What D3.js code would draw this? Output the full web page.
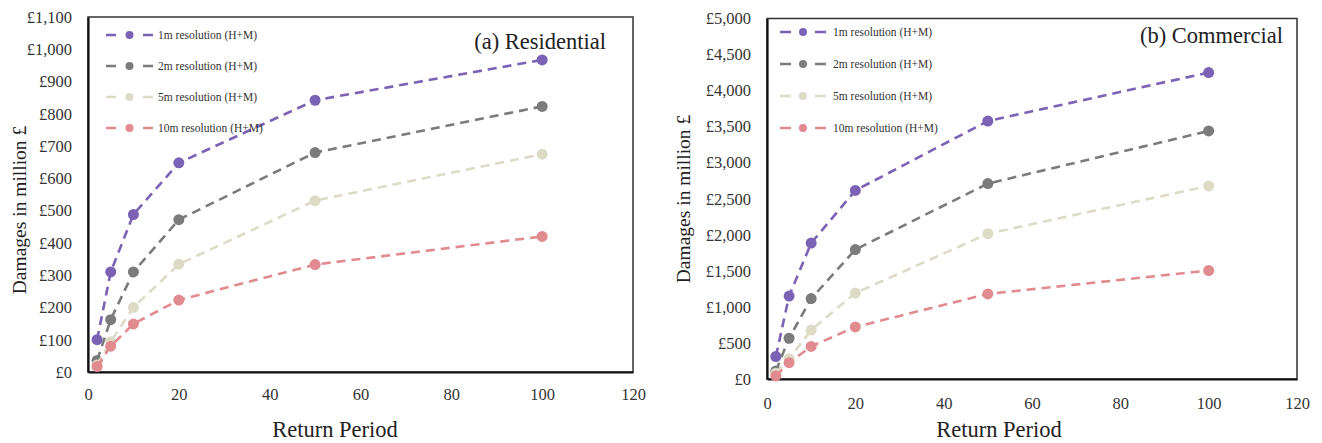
<!DOCTYPE html>
<html><head><meta charset="utf-8">
<script src="https://cdn.jsdelivr.net/npm/d3@7"></script>
<style>body{margin:0;background:#fff}svg{display:block}</style>
</head><body>
<svg id="c" width="1322" height="443"></svg>
<script>
const returnPeriods = [2, 5, 10, 20, 50, 100];
const seriesNames = ["1m resolution (H+M)", "2m resolution (H+M)", "5m resolution (H+M)", "10m resolution (H+M)"];
const seriesColors = ["#7c62b5", "#7b7b7b", "#dddac6", "#e18b90"];
const residential1m = [100, 310, 488, 648, 842, 967];
const residential2m = [36, 162, 310, 472, 680, 823];
const residential5m = [22, 94, 200, 334, 531, 675];
const residential10m = [17, 80, 149, 223, 333, 420];
const commercial1m = [312, 1150, 1885, 2615, 3578, 4250];
const commercial2m = [110, 565, 1115, 1795, 2710, 3440];
const commercial5m = [80, 280, 679, 1192, 2015, 2678];
const commercial10m = [42, 226, 452, 722, 1180, 1505];
const xTicks = [0, 20, 40, 60, 80, 100, 120];
const yTicksResidential = d3.range(0, 1101, 100);
const yTicksCommercial = d3.range(0, 5001, 500);

const svg = d3.select("#c");
const FONT = "Liberation Serif, DejaVu Serif, serif";

function panel(cfg) {
  const x = d3.scaleLinear().domain([0, 120]).range([cfg.x0, cfg.x1]);
  const y = d3.scaleLinear().domain([0, cfg.yMax]).range([cfg.y0, cfg.y1]);
  const g = svg.append("g");
  g.append("rect").attr("x", cfg.x0).attr("y", cfg.y1).attr("width", cfg.x1 - cfg.x0).attr("height", cfg.y0 - cfg.y1)
    .attr("fill", "none").attr("stroke", "#333").attr("stroke-width", 1.5);
  const yAxis = d3.axisLeft(y).tickValues(cfg.yTicks).tickSize(0).tickPadding(16)
    .tickFormat(v => "£" + d3.format(",")(v));
  const ya = g.append("g").attr("transform", `translate(${cfg.x0},0)`).call(yAxis);
  ya.select(".domain").attr("stroke", "#111").attr("stroke-width", 2.2);
  ya.selectAll("text").attr("font-family", FONT).attr("font-size", 16.5).attr("fill", "#333");
  const xAxis = d3.axisBottom(x).tickValues(xTicks).tickSize(0).tickPadding(cfg.xPad);
  const xa = g.append("g").attr("transform", `translate(0,${cfg.y0})`).call(xAxis);
  xa.select(".domain").attr("stroke", "#111").attr("stroke-width", 2.2);
  xa.selectAll("text").attr("font-family", FONT).attr("font-size", 16.5).attr("fill", "#333");
  g.append("text").attr("x", cfg.xTitleX).attr("y", cfg.xTitleY).attr("text-anchor", "middle")
    .attr("font-family", FONT).attr("font-size", 22.5).attr("fill", "#222").text("Return Period");
  g.append("text").attr("transform", `translate(${cfg.yTitleX},${cfg.yTitleY}) rotate(-90)`).attr("text-anchor", "middle")
    .attr("dominant-baseline", "central")
    .attr("font-family", FONT).attr("font-size", 19.5).attr("fill", "#222").text("Damages in million £");
  g.append("text").attr("x", cfg.titleX).attr("y", cfg.titleY).attr("text-anchor", "end")
    .attr("font-family", FONT).attr("font-size", 22.5).attr("fill", "#222").text(cfg.title);
  const line = d3.line().x((d, i) => x(returnPeriods[i])).y(d => y(d));
  cfg.series.forEach((vals, s) => {
    g.append("path").attr("d", line(vals)).attr("fill", "none").attr("stroke", seriesColors[s])
      .attr("stroke-width", 2.6).attr("stroke-dasharray", "9,6");
    g.selectAll(null).data(vals).enter().append("circle")
      .attr("cx", (d, i) => x(returnPeriods[i])).attr("cy", d => y(d)).attr("r", 5.5)
      .attr("fill", seriesColors[s]);
  });
  const lg = g.append("g");
  seriesNames.forEach((name, s) => {
    const ly = cfg.legY + s * cfg.legStep;
    lg.append("line").attr("x1", cfg.legX0).attr("x2", cfg.legX1).attr("y1", ly).attr("y2", ly)
      .attr("stroke", seriesColors[s]).attr("stroke-width", 2.4)
      .attr("stroke-dasharray", `${cfg.legDash},${cfg.legX1 - cfg.legX0 - 2 * cfg.legDash}`);
    lg.append("circle").attr("cx", (cfg.legX0 + cfg.legX1) / 2).attr("cy", ly).attr("r", 4).attr("fill", seriesColors[s]);
    lg.append("text").attr("x", cfg.legTextX).attr("y", ly).attr("dominant-baseline", "central")
      .attr("font-family", FONT).attr("font-size", 11.5).attr("fill", "#333").text(name);
  });
}

panel({
  x0: 88, x1: 633, y0: 372, y1: 17, yMax: 1100, yTicks: yTicksResidential, xPad: 16,
  xTitleX: 335, xTitleY: 437, yTitleX: 19, yTitleY: 210,
  title: "(a) Residential", titleX: 606, titleY: 49,
  series: [residential1m, residential2m, residential5m, residential10m],
  legX0: 106, legX1: 153, legDash: 10, legTextX: 158, legY: 35, legStep: 31
});
panel({
  x0: 767, x1: 1297, y0: 379, y1: 18.5, yMax: 5000, yTicks: yTicksCommercial, xPad: 18,
  xTitleX: 999, xTitleY: 437, yTitleX: 683, yTitleY: 199,
  title: "(b) Commercial", titleX: 1283, titleY: 43,
  series: [commercial1m, commercial2m, commercial5m, commercial10m],
  legX0: 780, legX1: 826, legDash: 11, legTextX: 833, legY: 32, legStep: 32
});
</script>
</body></html>
